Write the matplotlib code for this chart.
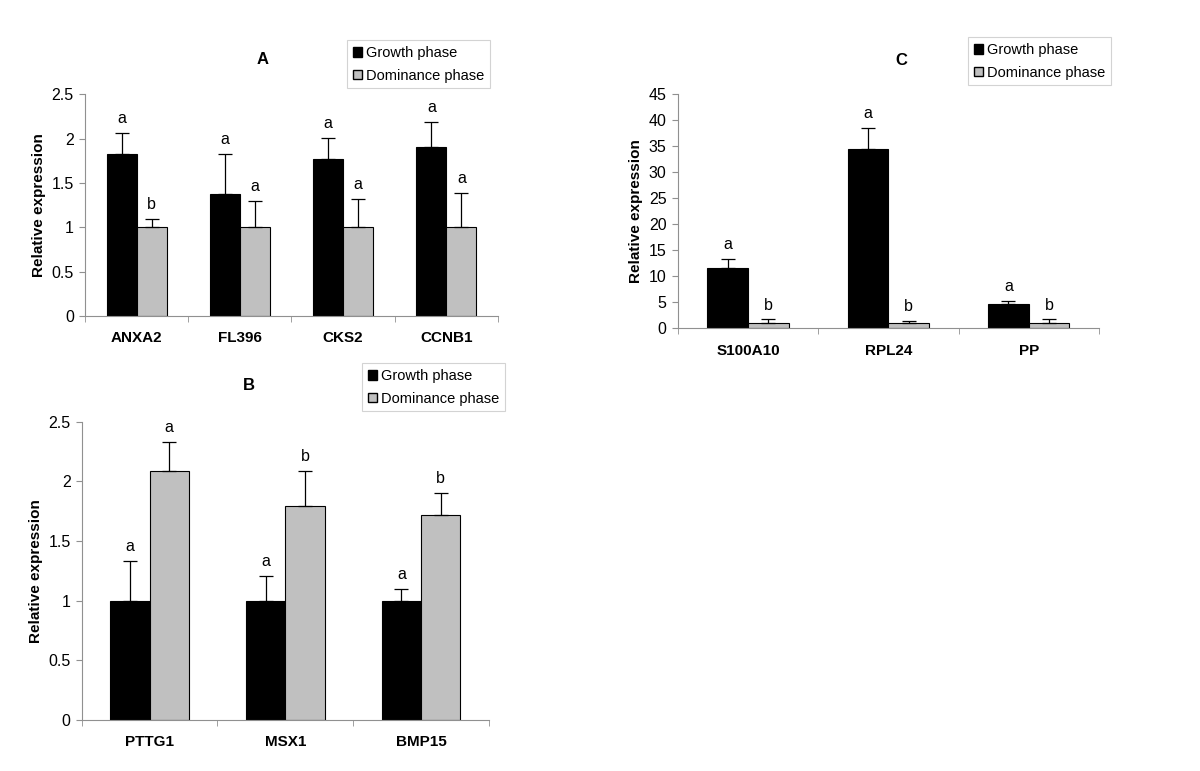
import numpy as np
import matplotlib
matplotlib.use("Agg")
import matplotlib.pyplot as plt
from matplotlib.patches import Patch

plt.rcParams["font.family"] = ["Liberation Sans", "DejaVu Sans"]

# panel A
genes_a = ["ANXA2", "FL396", "CKS2", "CCNB1"]
growth_a = [1.83, 1.38, 1.77, 1.91]
growth_a_err = [0.24, 0.45, 0.24, 0.28]
dom_a = [1.0, 1.0, 1.0, 1.0]
dom_a_err = [0.09, 0.30, 0.32, 0.39]
growth_a_lab = ["a", "a", "a", "a"]
dom_a_lab = ["b", "a", "a", "a"]

# panel B
genes_b = ["PTTG1", "MSX1", "BMP15"]
growth_b = [1.0, 1.0, 1.0]
growth_b_err = [0.33, 0.21, 0.10]
dom_b = [2.09, 1.79, 1.72]
dom_b_err = [0.24, 0.30, 0.18]
growth_b_lab = ["a", "a", "a"]
dom_b_lab = ["a", "b", "b"]

# panel C
genes_c = ["S100A10", "RPL24", "PP"]
growth_c = [11.6, 34.5, 4.7]
growth_c_err = [1.8, 4.1, 0.6]
dom_c = [1.0, 1.0, 1.0]
dom_c_err = [0.7, 0.4, 0.7]
growth_c_lab = ["a", "a", "a"]
dom_c_lab = ["b", "b", "b"]

series_names = ["Growth phase", "Dominance phase"]
gray = "#c0c0c0"
spine_col = "#909090"


def panel(ax, title, title_xy, genes, g, ge, d, de, gl, dl, ymax, ystep, leg_box):
    n = len(genes)
    x = np.arange(n)
    w = 0.29
    ax.bar(x - w / 2, g, w, color="black", edgecolor="black", linewidth=0.8, zorder=2)
    ax.bar(x + w / 2, d, w, color=gray, edgecolor="black", linewidth=0.8, zorder=2)
    ax.errorbar(x - w / 2, g, yerr=[np.zeros(n), ge], fmt="none", ecolor="black",
                elinewidth=0.9, capsize=5, capthick=0.9, zorder=3)
    ax.errorbar(x + w / 2, d, yerr=[np.zeros(n), de], fmt="none", ecolor="black",
                elinewidth=0.9, capsize=5, capthick=0.9, zorder=3)
    for i in range(n):
        ax.annotate(gl[i], (x[i] - w / 2, g[i] + ge[i]), xytext=(0, 5),
                    textcoords="offset points", ha="center", va="bottom", fontsize=11.5)
        ax.annotate(dl[i], (x[i] + w / 2, d[i] + de[i]), xytext=(0, 5),
                    textcoords="offset points", ha="center", va="bottom", fontsize=11.5)
    ax.set_xlim(-0.5, n - 0.5)
    ax.set_ylim(0, ymax)
    yt = np.arange(0, ymax + ystep / 2, ystep)
    ax.set_yticks(yt)
    ax.set_yticklabels(["%g" % v for v in yt], fontsize=11.5)
    ax.set_xticks(x)
    ax.set_xticklabels(genes, fontsize=11, fontweight="bold")
    ax.set_xticks(np.arange(n + 1) - 0.5, minor=True)
    ax.tick_params(axis="x", which="major", length=0, pad=11)
    ax.tick_params(axis="x", which="minor", length=4, color=spine_col, direction="out")
    ax.tick_params(axis="y", length=4, color=spine_col, direction="out", pad=4)
    for s in ["top", "right"]:
        ax.spines[s].set_visible(False)
    for s in ["left", "bottom"]:
        ax.spines[s].set_color(spine_col)
        ax.spines[s].set_linewidth(0.8)
    ax.set_ylabel("Relative expression", fontsize=11, fontweight="bold")
    ax.set_title(title, fontsize=12, fontweight="bold", x=title_xy[0], y=title_xy[1])
    handles = [Patch(facecolor="black", edgecolor="black"),
               Patch(facecolor=gray, edgecolor="black")]
    leg = ax.legend(handles, series_names, loc="upper left", bbox_to_anchor=leg_box,
                    bbox_transform=fig.transFigure, fontsize=10.5, frameon=True,
                    fancybox=False, handlelength=0.65, handleheight=0.65,
                    handletextpad=0.25, borderpad=0.4, labelspacing=0.6,
                    borderaxespad=0)
    leg.get_frame().set_edgecolor("#c8c8c8")
    leg.get_frame().set_linewidth(0.8)


fig = plt.figure(figsize=(12, 7.71), dpi=100)
ax_a = fig.add_axes([0.0708, 0.590, 0.3442, 0.2876])
ax_c = fig.add_axes([0.5648, 0.5742, 0.351, 0.3035])
ax_b = fig.add_axes([0.0681, 0.0661, 0.3394, 0.3869])

panel(ax_a, "A", (0.43, 1.10), genes_a, growth_a, growth_a_err, dom_a, dom_a_err,
      growth_a_lab, dom_a_lab, 2.5, 0.5, (347 / 1200, 1 - 40 / 771))
panel(ax_b, "B", (0.41, 1.077), genes_b, growth_b, growth_b_err, dom_b, dom_b_err,
      growth_b_lab, dom_b_lab, 2.5, 0.5, (362 / 1200, 1 - 363 / 771))
panel(ax_c, "C", (0.53, 1.09), genes_c, growth_c, growth_c_err, dom_c, dom_c_err,
      growth_c_lab, dom_c_lab, 45, 5, (968 / 1200, 1 - 37 / 771))

fig.savefig("out.png", dpi=100)
